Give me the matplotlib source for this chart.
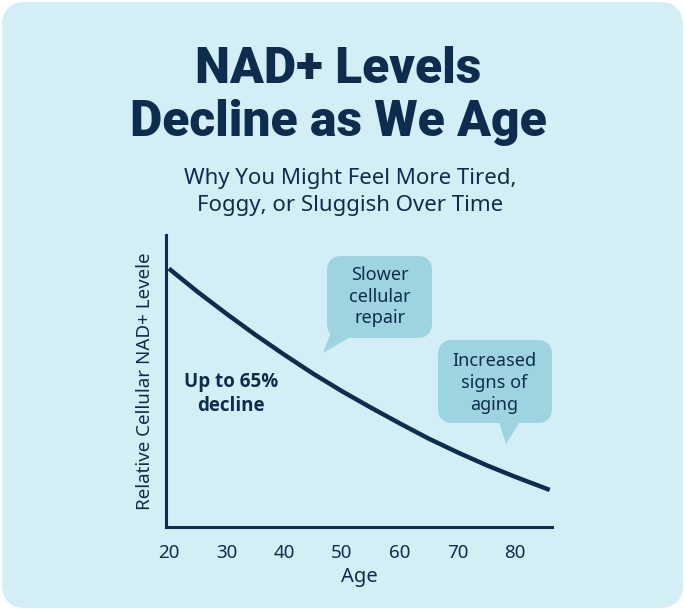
import matplotlib
matplotlib.use("Agg")
import matplotlib.pyplot as plt
from matplotlib.patches import FancyBboxPatch, Polygon

# Data (relative NAD+ level by age)
ages = [20, 25, 30, 35, 40, 45, 50, 55, 60, 65, 70, 75, 80, 86]
nad_levels = [0.885, 0.805, 0.73, 0.658, 0.59, 0.525, 0.465, 0.409, 0.355, 0.303, 0.256, 0.212, 0.172, 0.127]
age_ticks = [20, 30, 40, 50, 60, 70, 80]

title = "NAD+ Levels\nDecline as We Age"
subtitle = "Why You Might Feel More Tired,\nFoggy, or Sluggish Over Time"
callout_repair = "Slower\ncellular\nrepair"
callout_aging = "Increased\nsigns of\naging"
decline_note = "Up to 65%\ndecline"

NAVY = "#0e2c4e"
BG = "#d3eef4"
BUBBLE = "#9dd4df"

W, H = 685, 610
fig = plt.figure(figsize=(W / 100, H / 100), dpi=100)
fig.patch.set_facecolor("white")


def fx(x):
    return x / W


def fy(y):
    return 1 - y / H


# Rounded card background, kept behind the axes
card = FancyBboxPatch((fx(2), fy(608)), fx(681), 606 / H,
                      boxstyle="round,pad=0,rounding_size=0.035",
                      transform=fig.transFigure, facecolor=BG, edgecolor="none",
                      mutation_aspect=W / H, zorder=-5)
fig.patches.append(card)

# Title and subtitle
fig.text(fx(338), fy(96), title, ha="center", va="center", fontsize=35.8,
         fontweight="black", color=NAVY, family="Roboto", linespacing=1.15)
fig.text(fx(350), fy(192), subtitle, ha="center", va="center", fontsize=16,
         color=NAVY, family="Noto Sans", linespacing=1.4)

# Main axes
ax = fig.add_axes([fx(166), fy(527), fx(552) - fx(166), fy(235) - fy(527)])
ax.set_facecolor("none")
ax.plot(ages, nad_levels, color=NAVY, lw=3.2, solid_capstyle="butt")
ax.set_xlim(19.5, 86.4)
ax.set_ylim(0, 1)
ax.set_xticks(age_ticks)
ax.set_yticks([])
ax.tick_params(axis="x", length=0, pad=12, labelsize=13.5, labelcolor=NAVY)
for lab in ax.get_xticklabels():
    lab.set_family("Noto Sans")
for side in ["top", "right"]:
    ax.spines[side].set_visible(False)
for side in ["left", "bottom"]:
    ax.spines[side].set_color(NAVY)
    ax.spines[side].set_linewidth(2.2)
ax.set_xlabel("Age", fontsize=14.5, color=NAVY, family="Noto Sans", labelpad=4)
ax.set_ylabel("Relative Cellular NAD+ Levele", fontsize=13.5, color=NAVY,
              family="Noto Sans", labelpad=9)

# Decline note
fig.text(fx(231), fy(394), decline_note, ha="center", va="center", fontsize=13.5,
         fontweight="bold", color=NAVY, family="Open Sans", linespacing=1.3)


def bubble(x0, y0, x1, y1, tail, text, cx, cy):
    box = FancyBboxPatch((fx(x0), fy(y1)), fx(x1 - x0), (y1 - y0) / H,
                         boxstyle="round,pad=0,rounding_size=0.022",
                         transform=fig.transFigure, facecolor=BUBBLE,
                         edgecolor="none", mutation_aspect=W / H, zorder=2)
    fig.patches.append(box)
    fig.patches.append(Polygon([(fx(px), fy(py)) for px, py in tail], closed=True,
                               transform=fig.transFigure, facecolor=BUBBLE,
                               edgecolor="none", zorder=2))
    fig.text(fx(cx), fy(cy), text, ha="center", va="center", fontsize=13,
             color=NAVY, family="Noto Sans", linespacing=1.25, zorder=3)


bubble(327, 256, 432, 338, [(332, 330), (352, 336), (323, 353)],
       callout_repair, 380, 297)
bubble(438, 340, 552, 423, [(498, 418), (522, 418), (506, 444)],
       callout_aging, 494, 383)

fig.savefig("out.png", dpi=100, facecolor=fig.get_facecolor())
